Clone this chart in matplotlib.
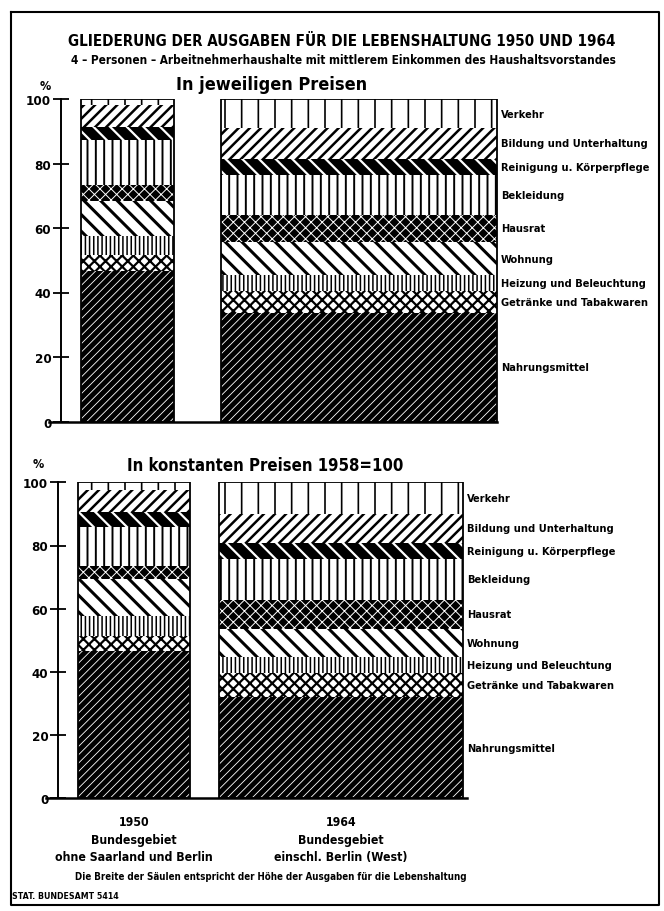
import matplotlib
matplotlib.use("Agg")
import matplotlib.pyplot as plt
import numpy as np

plt.rcParams['font.family'] = ['DejaVu Sans']
plt.rcParams['font.stretch'] = 'condensed'
plt.rcParams['font.weight'] = 'bold'

# ---------------- data ----------------
kategorien = ["Nahrungsmittel", "Getränke und Tabakwaren", "Heizung und Beleuchtung",
              "Wohnung", "Hausrat", "Bekleidung", "Reinigung u. Körperpflege",
              "Bildung und Unterhaltung", "Verkehr"]

# Anteile in % (von unten nach oben)
jeweilig_1950 = [46.6, 5.0, 5.9, 10.8, 5.0, 14.0, 4.0, 6.8, 1.9]
jeweilig_1964 = [33.5, 7.1, 4.8, 10.2, 8.5, 12.2, 5.2, 9.5, 9.0]
konstant_1950 = [46.6, 4.8, 6.3, 11.7, 4.1, 12.4, 4.8, 6.9, 2.4]
konstant_1964 = [32.0, 7.7, 4.9, 9.0, 9.2, 12.9, 5.1, 9.2, 10.0]

# Säulenbreite ~ Höhe der Ausgaben (relative Einheiten)
breite_jeweilig = [93, 276]
breite_konstant = [112, 244]

y_ticks = [0, 20, 40, 60, 80, 100]

jahre = ["1950", "1964"]
gebiet = ["Bundesgebiet\nohne Saarland und Berlin", "Bundesgebiet\neinschl. Berlin (West)"]

# ---------------- styles ----------------
# (facecolor, hatch, hatchcolor, hatch linewidth)
muster = [
    ("black", "////", "white", 0.6),      # Nahrungsmittel
    ("white", "xxx", "black", 1.6),       # Getränke
    ("white", "||||", "black", 1.1),      # Heizung
    ("white", "\\\\", "black", 2.2),      # Wohnung
    ("black", "xxx", "white", 0.7),       # Hausrat
    ("white", "||", "black", 1.4),        # Bekleidung
    ("black", "\\\\", "white", 1.6),      # Reinigung
    ("white", "///", "black", 1.8),       # Bildung
    ("white", "|", "black", 1.2),         # Verkehr
]

W, H = 664, 912
fig = plt.figure(figsize=(W / 100, H / 100), dpi=100)


def px_text(x, y, s, **kw):
    kw.setdefault("va", "center")
    fig.text(x / W, 1 - y / H, s, **kw)


def panel(y100, y0, werte, breiten, lefts, axis_x, base_right, label_x):
    ax = fig.add_axes([0, 1 - y0 / H, 1, (y0 - y100) / H])
    ax.set_xlim(0, W)
    ax.set_ylim(0, 100)
    ax.patch.set_alpha(0)
    bottoms = np.zeros(2)
    for i in range(len(kategorien)):
        fc, hatch, hc, hlw = muster[i]
        vals = np.array([werte[0][i], werte[1][i]])
        bars = ax.bar(lefts, vals, width=breiten, bottom=bottoms, align="edge",
                      color=fc, edgecolor=hc, hatch=hatch, linewidth=0)
        for b in bars:
            if hasattr(b, "set_hatch_linewidth"):
                b.set_hatch_linewidth(hlw)
            else:
                b._hatch_linewidth = hlw
        # label at centre of 1964 segment
        yc = bottoms[1] + vals[1] / 2
        ax.text(label_x, yc, kategorien[i], ha="left", va="center", fontsize=7.9,
                fontweight="bold")
        bottoms = bottoms + vals
    ax.bar(lefts, bottoms, width=breiten, align="edge", fill=False,
           edgecolor="black", linewidth=1.3)
    for s in ("top", "right"):
        ax.spines[s].set_visible(False)
    ax.spines["left"].set_position(("data", axis_x))
    ax.spines["left"].set_linewidth(1.4)
    ax.spines["bottom"].set_linewidth(1.8)
    ax.spines["bottom"].set_bounds(axis_x - 12, base_right)
    ax.set_xticks([])
    ax.set_yticks(y_ticks)
    ax.set_yticklabels([str(t) for t in y_ticks], fontsize=9.5, fontweight="bold")
    ax.tick_params(axis="y", direction="inout", length=11, width=1.3, pad=1.5)
    return ax


# top panel
panel(100, 422.5, [jeweilig_1950, jeweilig_1964], breite_jeweilig, [81, 221],
      61, 497, 501)
# bottom panel
panel(483.3, 799.3, [konstant_1950, konstant_1964], breite_konstant, [78, 219],
      58, 467, 467)

# texts
px_text(342, 41, "GLIEDERUNG DER AUSGABEN FÜR DIE LEBENSHALTUNG 1950 UND 1964",
        ha="center", fontsize=10.9, fontweight="bold")
px_text(343, 61, "4 – Personen – Arbeitnehmerhaushalte mit mittlerem Einkommen des Haushaltsvorstandes",
        ha="center", fontsize=8.5, fontweight="bold")
px_text(272, 85, "In jeweiligen Preisen", ha="center", fontsize=13, fontweight="bold")
px_text(45, 87, "%", ha="center", fontsize=9, fontweight="bold")
px_text(265, 466, "In konstanten Preisen 1958=100", ha="center", fontsize=12,
        fontweight="bold")
px_text(38, 465, "%", ha="center", fontsize=9, fontweight="bold")

for cx, j, g in zip([134, 341], jahre, gebiet):
    px_text(cx, 823, j, ha="center", fontsize=8.8, fontweight="bold")
    px_text(cx, 849, g, ha="center", fontsize=8.8, fontweight="bold", linespacing=1.35)

px_text(271, 877, "Die Breite der Säulen entspricht der Höhe der Ausgaben für die Lebenshaltung",
        ha="center", fontsize=7.0, fontweight="bold")
px_text(12, 897, "STAT. BUNDESAMT 5414", ha="left", fontsize=6.3, fontweight="bold")

# outer frame
frame = fig.add_axes([0, 0, 1, 1])
frame.set_xlim(0, W)
frame.set_ylim(H, 0)
frame.axis("off")
frame.patch.set_alpha(0)
frame.plot([11, 659, 659, 11, 11], [13, 13, 906, 906, 13], color="black", lw=1.5)

fig.savefig("out.png", dpi=100)
